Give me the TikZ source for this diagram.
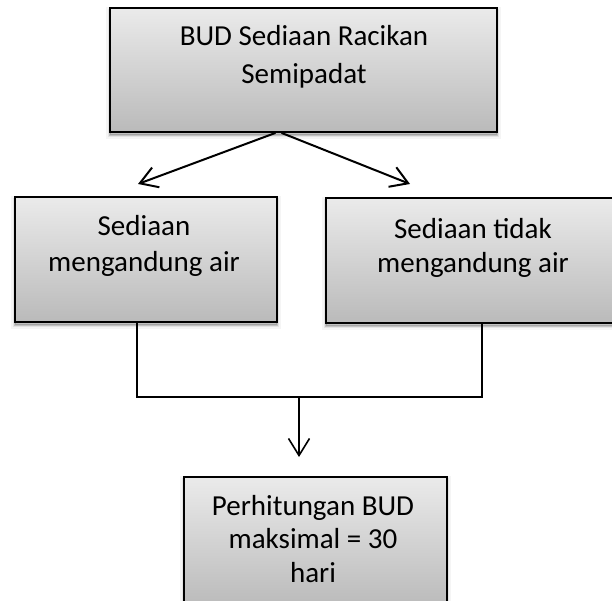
\documentclass[tikz,border=0pt]{standalone}
\usepackage{fontspec}
\setmainfont{Carlito}
\usetikzlibrary{arrows.meta}
\begin{document}
\begin{tikzpicture}[x=1pt,y=-1pt,
  card/.style={rectangle, draw=black, line width=1.8pt, inner sep=0pt,
    top color=black!8, bottom color=black!27,
    preaction={draw=black, line width=8pt, draw opacity=0.04, transform canvas={yshift=-3pt}},
    preaction={draw=black, line width=4.5pt, draw opacity=0.07, transform canvas={yshift=-3pt}},
    preaction={draw=black, line width=1.5pt, draw opacity=0.15, fill=black, fill opacity=0.15, transform canvas={yshift=-3pt}}},
  boxtext/.style={inner sep=0pt, align=center, anchor=north},
  link/.style={line width=1.6pt},
  tip/.style={-{Straight Barb[length=17pt,width=21pt]}}]

\useasboundingbox (0,0) rectangle (612,601);

% boxes
\node[card, minimum width=387pt, minimum height=124pt] (top) at (303.5,70) {};
\node[card, minimum width=262pt, minimum height=125pt] (lft) at (146,259.5) {};
\node[card, minimum width=290pt, minimum height=125pt] (rgt) at (471,260.5) {};
\node[card, minimum width=263pt, minimum height=130pt] (bot) at (315.5,542) {};

% box texts
\node[boxtext, font=\fontsize{29}{38}\selectfont] (toptext) at (304,25) {BUD Sediaan Racikan\\Semipadat};
\node[boxtext, font=\fontsize{29}{36.5}\selectfont] (lfttext) at (144,215) {Sediaan\\mengandung air};
\node[boxtext, font=\fontsize{29}{34.5}\selectfont] (rgttext) at (473,218) {Sediaan tidak\\mengandung air};
\node[boxtext, font=\fontsize{29}{33.5}\selectfont] (bottext) at (313,495) {Perhitungan BUD\\maksimal = 30\\hari};

% branching arrows
\coordinate (la) at (138,184);
\coordinate (ra) at (410,184);
\draw[link, line width=2pt, tip] ([xshift=-28pt]top.south) -- (la);
\draw[link, line width=2pt, tip] ([xshift=-22pt]top.south) -- (ra);

% joining line and final arrow
\coordinate (mj) at (299,397);
\coordinate (bt) at (299,457);
\draw[link] ([xshift=-9pt]lft.south) |- (mj) -| ([xshift=11pt]rgt.south);
\draw[link, tip] (mj) -- (bt);
\end{tikzpicture}
\end{document}
